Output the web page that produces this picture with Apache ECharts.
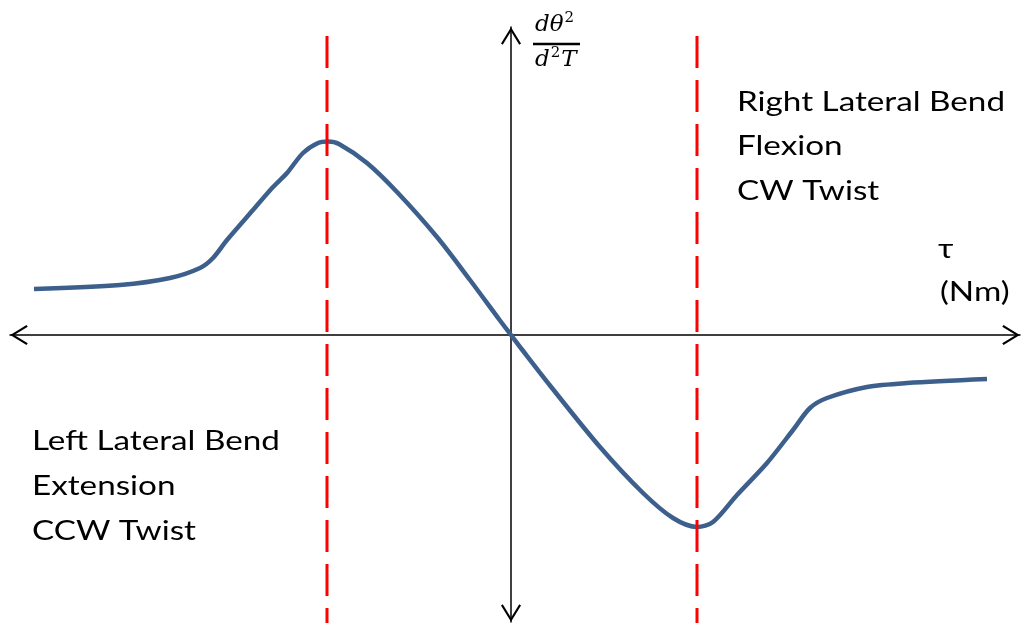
<!DOCTYPE html>
<html>
<head>
<meta charset="utf-8">
<script src="https://cdn.jsdelivr.net/npm/echarts@6/dist/echarts.min.js"></script>
<style>
html,body{margin:0;padding:0;background:#fff;}
#chart{width:1023px;height:623px;}
</style>
</head>
<body>
<div id="chart"></div>
<script>
// ---- data (arbitrary units) ----
const curveX = [-9.54,-7.82,-6.82,-6.22,-5.96,-5.68,-5.16,-4.76,-4.48,-4.16,-3.86,-3.66,-3.44,-2.88,-2.28,-1.48,-0.82,-0.22,0,0.22,0.78,1.78,2.64,3.24,3.72,4.04,4.52,5.12,5.64,5.98,6.32,7.12,7.92,9.52];
const curveY = [0.92,1.00,1.14,1.34,1.54,1.90,2.50,2.96,3.24,3.64,3.84,3.87,3.82,3.44,2.86,1.96,1.10,0.29,0,-0.29,-1.01,-2.24,-3.16,-3.66,-3.84,-3.74,-3.20,-2.56,-1.90,-1.46,-1.26,-1.04,-0.96,-0.88];
const guideX = [-3.68, 3.72];
const guideSpan = [5.98, -5.76];
const xRange = [-10.02, 10.18];
const yRange = [-5.74, 6.16];
const rightLabels = ['Right Lateral Bend', 'Flexion', 'CW Twist'];
const leftLabels = ['Left Lateral Bend', 'Extension', 'CCW Twist'];
const xAxisName = ['τ', '(Nm)'];
const yAxisNum = ['dθ', '2'];
const yAxisDen = ['d', '2', 'T'];

// ---- helpers ----
function measure(text, font) {
  const c = document.createElement('canvas').getContext('2d');
  c.font = font;
  return c.measureText(text).width;
}
const FONT = 'Lato';
const FS = 26;
const lineFont = FS + 'px ' + FONT;
const sx = 268 / measure(rightLabels[0], lineFont);
const MATHFONT = 'italic 23px "DejaVu Serif"';
const SUPFONT = '15px "DejaVu Serif"';

const chart = echarts.init(document.getElementById('chart'), null, {renderer: 'canvas'});
const arrow = 'path://M0,13 L8,0 L16,13 L14.6,14 L8,3.2 L1.4,14 Z';

const curve = curveX.map((x, i) => [x, curveY[i]]);
const guideSeries = guideX.map(gx => ({
  type: 'line',
  data: [[gx, guideSpan[0]], [gx, guideSpan[1]]],
  showSymbol: false,
  clip: false,
  silent: true,
  animation: false,
  lineStyle: {color: '#FF0000', width: 3, type: [32, 12]},
  z: 5
}));

function txt(t, x, ymid, font, scale) {
  return {type:'text', x:x, y:ymid, scaleX:scale, silent:true,
    style:{text:t, font:font, fill:'#000', verticalAlign:'middle'}};
}

const graphics = [];
const rightBase = [113, 157, 202];
const leftBase = [452, 497, 542];
rightLabels.forEach((t, i) => graphics.push(txt(t, 737, rightBase[i] - 10, lineFont, sx)));
leftLabels.forEach((t, i) => graphics.push(txt(t, 32, leftBase[i] - 10, lineFont, sx)));
graphics.push(txt(xAxisName[0], 938, 260 - 10, lineFont, sx));
graphics.push(txt(xAxisName[1], 940, 303 - 10, lineFont, sx));

// fraction d theta^2 / d^2 T
const msx = 1.0;
let cx = 535;
graphics.push(txt(yAxisNum[0], cx, 33 - 8, MATHFONT, msx));
cx += measure(yAxisNum[0], MATHFONT) * msx + 1;
graphics.push(txt(yAxisNum[1], cx, 33 - 15, SUPFONT, msx));
cx = 535;
graphics.push(txt(yAxisDen[0], cx, 68 - 8, MATHFONT, msx));
cx += measure(yAxisDen[0], MATHFONT) * msx + 1;
graphics.push(txt(yAxisDen[1], cx, 68 - 15, SUPFONT, msx));
cx += measure(yAxisDen[1], SUPFONT) * msx + 1;
graphics.push(txt(yAxisDen[2], cx, 68 - 8, MATHFONT, msx));
graphics.push({type:'line', silent:true, shape:{x1:533, y1:44, x2:580, y2:44}, style:{stroke:'#000', lineWidth:2.4}});

const axisCommon = {
  type: 'value',
  axisLine: {show: true, onZero: true, symbol: [arrow, arrow], symbolSize: [20, 18], symbolOffset: [9, -9], lineStyle: {color: '#000', width: 1.5}},
  axisTick: {show: false},
  axisLabel: {show: false},
  splitLine: {show: false}
};

chart.setOption({
  animation: false,
  backgroundColor: '#fff',
  grid: {left: 10, right: 3, top: 27, bottom: 1, containLabel: false},
  xAxis: Object.assign({}, axisCommon, {min: xRange[0], max: xRange[1]}),
  yAxis: Object.assign({}, axisCommon, {min: yRange[0], max: yRange[1]}),
  series: [{
    type: 'line',
    data: curve,
    smooth: 0.3,
    showSymbol: false,
    silent: true,
    lineStyle: {color: '#3C5F8C', width: 4.5},
    z: 3
  }].concat(guideSeries),
  graphic: graphics
});
</script>
</body>
</html>
